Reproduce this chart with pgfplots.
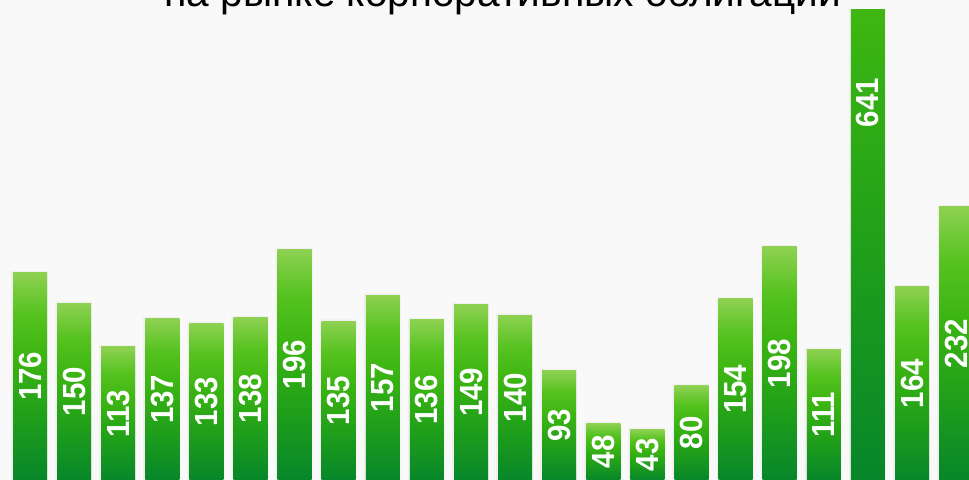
\documentclass[border=0pt]{standalone}
\usepackage{fontspec}
\setmainfont{Liberation Sans}
\newfontfamily\numfont[FakeStretch=0.92]{Liberation Sans}
\usepackage{pgfplots}
\pgfplotsset{compat=1.18}
\usepackage{pgfplotstable}
\definecolor{bg}{HTML}{F9F9F9}
\definecolor{gtop}{HTML}{8ED152}
\definecolor{gup}{HTML}{55C21F}
\definecolor{gmid}{HTML}{3CB512}
\definecolor{glow}{HTML}{1F9F1A}
\definecolor{gbot}{HTML}{07862A}
\pgfdeclareverticalshading{barshade}{100bp}{color(0bp)=(gbot); color(25bp)=(gbot); color(40bp)=(glow); color(55bp)=(gmid); color(65bp)=(gup); color(75bp)=(gtop); color(100bp)=(gtop)}
\pgfplotstableread{
x v
0 176
1 150
2 113
3 137
4 133
5 138
6 196
7 135
8 157
9 136
10 149
11 140
12 93
13 48
14 43
15 80
16 154
17 198
18 111
19 641
20 164
21 232
}\data
\begin{document}
\begin{tikzpicture}[x=1pt,y=1pt]
\fill[bg] (0,0) rectangle (484.5,240);
\begin{axis}[at={(0,0)}, anchor=south west, scale only axis, width=484.5pt, height=235pt,
  xmin=-0.6803, xmax=21.2925, ymin=0, ymax=399.3, hide axis, clip=true]
\addplot[ybar, bar width=18.5pt, bar shift=-0.3pt, draw=none, fill=black, fill opacity=0.035] table[x=x, y expr=\thisrow{v}+1.5]{\data};
\pgfplotsinvokeforeach{0,...,21}{
\addplot[ybar, bar width=17pt, bar shift=0pt, draw=none, shading=barshade,
  restrict expr to domain={\thisrow{x}}{#1:#1}] table[x=x,y=v]{\data};
}
\addplot[only marks, mark=none, nodes near coords, point meta=explicit symbolic,
  every node near coord/.append style={anchor=center, rotate=90, text=white, font=\numfont\bfseries\fontsize{16}{16}\selectfont, inner sep=0pt}]
  table[x=x, y expr=\thisrow{v}/2, meta=v]{\data};
\end{axis}
\node[anchor=base, font=\fontsize{20.3}{24}\selectfont, inner sep=0pt] at (251.25,236.5) {на рынке корпоративных облигаций};
\pgfresetboundingbox
\path[use as bounding box] (0,0) rectangle (484.5,240);
\end{tikzpicture}
\end{document}
